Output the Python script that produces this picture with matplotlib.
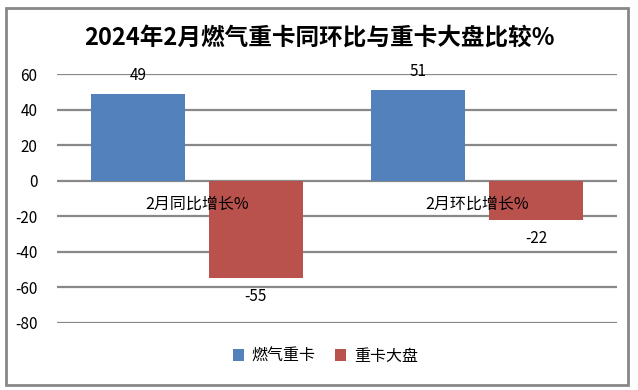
import matplotlib.pyplot as plt
import numpy as np
from matplotlib.patches import Rectangle

plt.rcParams['font.family'] = ['Noto Sans CJK SC', 'DejaVu Sans']

categories = ["2月同比增长%", "2月环比增长%"]
series_names = ["燃气重卡", "重卡大盘"]
gas_heavy = [49, 51]
heavy_total = [-55, -22]
yticks = [-80, -60, -40, -20, 0, 20, 40, 60]

colors = ["#5281BC", "#B9524D"]

fig = plt.figure(figsize=(6.38, 3.90), dpi=100)
ax = fig.add_axes([0.0893, 0.172, 0.878, 0.638])

x = np.arange(len(categories))
w = 0.336
off = 0.21
b1 = ax.bar(x - off, gas_heavy, w, color=colors[0], label=series_names[0], zorder=3)
b2 = ax.bar(x + off, heavy_total, w, color=colors[1], label=series_names[1], zorder=3)

for rect, v in zip(b1, gas_heavy):
    ax.annotate(str(v), (rect.get_x() + rect.get_width() / 2, v), xytext=(0, 7),
                textcoords="offset points", ha="center", va="bottom", fontsize=11)
for rect, v in zip(b2, heavy_total):
    ax.annotate(str(v), (rect.get_x() + rect.get_width() / 2, v), xytext=(0, -7),
                textcoords="offset points", ha="center", va="top", fontsize=11)

for i, c in enumerate(categories):
    ax.text(i, -8.5, c, ha="center", va="top", fontsize=11.5, zorder=4)

ax.set_xlim(-0.5, 1.5)
ax.set_ylim(-80, 60)
ax.set_yticks(yticks)
ax.set_yticklabels([str(t) for t in yticks], fontsize=11)
ax.set_xticks([])
ax.tick_params(axis="y", length=0, pad=14)
ax.grid(axis="y", color="#888888", linewidth=1.6, zorder=0)
for s in ax.spines.values():
    s.set_visible(False)

fig.suptitle("2024年2月燃气重卡同环比与重卡大盘比较%", x=0.5, y=0.935,
             fontsize=17, fontweight="bold")

fig.legend(handles=[b1, b2], labels=series_names, loc="center", ncol=2,
           bbox_to_anchor=(0.51, 0.087), frameon=False, fontsize=11.5,
           handlelength=0.7, handleheight=0.7, columnspacing=1.2, handletextpad=0.5)

fig.patches.append(Rectangle((0.009, 0.012), 0.975, 0.968, transform=fig.transFigure,
                             fill=False, edgecolor="#888888", linewidth=2))

fig.savefig("out.png", dpi=100)
